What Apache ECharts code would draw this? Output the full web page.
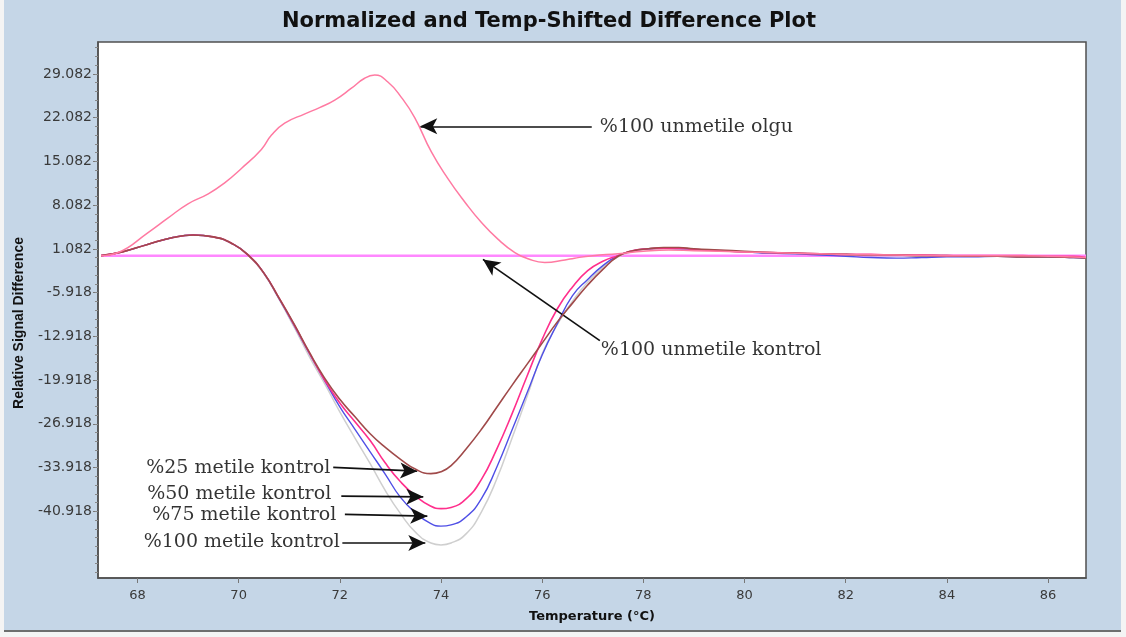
<!DOCTYPE html>
<html>
<head>
<meta charset="utf-8">
<script src="https://cdn.jsdelivr.net/npm/echarts@6/dist/echarts.min.js"></script>
<style>
  html, body { margin: 0; padding: 0; background: #f4f4f4; }
  #chart { width: 1126px; height: 637px; }
</style>
</head>
<body>
<div id="chart"></div>
<script>
// ---------- data ----------
const titleText = 'Normalized and Temp-Shifted Difference Plot';
const xAxisName = 'Temperature (\u00B0C)';
const yAxisName = 'Relative Signal Difference';

const xTicks = [68, 70, 72, 74, 76, 78, 80, 82, 84, 86];
const yTicks = [-40.918, -33.918, -26.918, -19.918, -12.918, -5.918, 1.082, 8.082, 15.082, 22.082, 29.082];
const xRange = [67.22, 86.75];
const yRange = [-51.6, 34.2];

// common temperature grid for the metile control curves
const tempGrid = [67.28, 67.7, 68.2, 68.7, 69.1, 69.5, 69.9, 70.2, 70.5, 70.8, 71.1, 71.4, 71.7,
  72.0, 72.3, 72.6, 72.9, 73.2, 73.5, 73.8, 74.0, 74.2, 74.5, 74.8, 75.1, 75.4, 75.7, 76.0,
  76.3, 76.6, 76.9, 77.2, 77.5, 77.8, 78.1, 78.4, 78.7, 79.0, 79.5, 80.0, 80.5, 81.0, 81.5,
  82.0, 82.5, 83.0, 83.5, 84.0, 84.5, 85.0, 85.5, 86.0, 86.5, 86.75];

const metile25 = [0, 0.6, 1.8, 2.9, 3.3, 3.0, 1.8, 0.0, -2.8, -6.8, -11.0, -15.5, -19.6,
  -23.0, -25.8, -28.5, -30.7, -32.6, -34.2, -34.9, -34.6, -33.6, -30.9, -27.8, -24.3, -20.8, -17.4, -14.0,
  -10.6, -7.6, -4.7, -2.2, -0.1, 0.8, 1.1, 1.3, 1.3, 1.1, 0.9, 0.7, 0.5, 0.4, 0.3,
  0.2, 0.1, 0.1, 0.0, 0.0, -0.1, -0.1, -0.2, -0.2, -0.3, -0.4];

const metile50 = [0, 0.6, 1.8, 2.9, 3.3, 3.0, 1.8, 0.0, -2.8, -6.8, -11.1, -15.6, -19.9,
  -23.6, -26.6, -29.6, -33.2, -36.2, -38.5, -40.1, -40.5, -40.3, -38.9, -35.8, -31.0, -25.4, -19.3, -13.4,
  -8.5, -5.0, -2.4, -0.9, 0.0, 0.8, 1.1, 1.2, 1.2, 1.0, 0.8, 0.6, 0.5, 0.4, 0.3,
  0.2, 0.2, 0.1, 0.1, 0.0, 0.0, 0.0, 0.0, -0.1, -0.1, -0.3];

const metile75 = [0, 0.6, 1.8, 2.9, 3.3, 3.0, 1.8, 0.0, -2.8, -6.9, -11.2, -15.7, -20.0,
  -24.2, -27.8, -31.4, -35.0, -38.7, -41.2, -42.9, -43.3, -43.1, -41.8, -38.9, -33.9, -28.0, -22.0, -15.9,
  -10.9, -6.4, -3.8, -1.6, 0.0, 0.8, 1.1, 1.2, 1.1, 1.0, 0.8, 0.6, 0.4, 0.3, 0.1,
  -0.1, -0.3, -0.4, -0.3, -0.2, -0.2, -0.1, -0.2, -0.2, -0.3, -0.4];

const metile100 = [0, 0.6, 1.8, 2.9, 3.3, 3.0, 1.8, 0.0, -2.9, -7.0, -11.5, -16.2, -20.5,
  -25.0, -29.2, -33.3, -37.6, -41.3, -44.3, -46.0, -46.3, -46.0, -44.5, -41.0, -35.8, -29.3, -22.6, -15.7,
  -11.0, -7.3, -4.2, -1.9, -0.2, 0.7, 1.0, 1.1, 1.1, 1.0, 0.8, 0.6, 0.5, 0.3, 0.2,
  0.1, 0.0, 0.0, -0.1, -0.1, -0.1, -0.1, -0.2, -0.2, -0.3, -0.4];

// %100 unmetile olgu (sample) curve
const olguTemp = [67.28, 67.62, 68.21, 68.6, 69.0, 69.4, 69.73, 70.06, 70.45, 70.65, 70.91, 71.31,
  71.6, 71.9, 72.23, 72.49, 72.69, 72.95, 73.22, 73.48, 73.81, 74.14, 74.47, 74.8, 75.13, 75.46,
  75.72, 76.05, 76.45, 76.64, 77.0, 77.5, 78.0, 78.5, 79.0, 80.0, 81.0, 82.0, 83.0, 84.0, 85.0, 86.0, 86.75];
const olguVal = [0, 0.5, 3.7, 6.0, 8.3, 9.9, 11.7, 14.0, 17.0, 19.3, 21.2, 22.7,
  23.7, 24.9, 26.8, 28.4, 28.9, 27.8, 25.3, 22.1, 16.6, 12.3, 8.6, 5.3, 2.6, 0.5,
  -0.5, -1.1, -0.7, -0.4, 0.0, 0.3, 0.7, 0.9, 0.8, 0.6, 0.4, 0.2, 0.1, 0.0, 0.0, -0.1, -0.3];

// %100 unmetile kontrol (reference, flat at zero)
const unmetileTemp = [67.28, 86.75];
const unmetileVal = [0, 0];

// annotation texts with anchor / arrow points in data units
const annotations = [
  { text: '%100 unmetile olgu',    at: [77.14, 20.6],  side: 'right', from: [76.98, 20.7],  to: [73.59, 20.7] },
  { text: '%100 unmetile kontrol', at: [77.16, -15.1], side: 'right', from: [77.14, -13.6], to: [74.83, -0.6] },
  { text: '%25 metile kontrol',    at: [71.81, -34.0], side: 'left',  from: [71.87, -33.9], to: [73.53, -34.5] },
  { text: '%50 metile kontrol',    at: [71.83, -38.2], side: 'left',  from: [72.03, -38.5], to: [73.65, -38.6] },
  { text: '%75 metile kontrol',    at: [71.93, -41.5], side: 'left',  from: [72.10, -41.4], to: [73.73, -41.7] },
  { text: '%100 metile kontrol',   at: [72.00, -45.9], side: 'left',  from: [72.05, -46.0], to: [73.69, -46.0] }
];

// ---------- build ----------
const pair = (xs, ys) => xs.map((x, i) => [x, ys[i]]);
const minorStep = (yTicks[1] - yTicks[0]) / 5;
const yMinor = [];
for (let v = yTicks[0]; v > yRange[0]; v -= minorStep) yMinor.push(+v.toFixed(4));
for (let v = yTicks[0] + minorStep; v < yRange[1]; v += minorStep) yMinor.push(+v.toFixed(4));

const chart = echarts.init(document.getElementById('chart'));

function lineSeries(name, data, color, width, z) {
  return {
    name, type: 'line', data, smooth: true, symbol: 'none', z,
    lineStyle: { color, width }, animation: false, silent: true
  };
}

const axisFont = { fontFamily: 'DejaVu Sans', fontSize: 14, color: '#3a3a3a' };

chart.setOption({
  backgroundColor: '#f4f4f4',
  animation: false,
  graphic: [
    { type: 'rect', z: -100, shape: { x: 4, y: 0, width: 1117, height: 630 }, style: { fill: '#c5d6e7' } },
    { type: 'line', z: -99, shape: { x1: 4, y1: 631, x2: 1121, y2: 631 }, style: { stroke: '#6e6e6e', lineWidth: 2 } }
  ],
  title: {
    text: titleText, left: 277, top: 6,
    textStyle: { fontFamily: 'DejaVu Sans', fontWeight: 'bold', fontSize: 21, color: '#111' }
  },
  grid: {
    left: 98, right: 40, top: 42, bottom: 59,
    show: true, backgroundColor: '#ffffff', borderColor: '#505050', borderWidth: 1.5
  },
  xAxis: {
    type: 'value', min: xRange[0], max: xRange[1],
    name: xAxisName, nameLocation: 'middle', nameGap: 32,
    nameTextStyle: { fontFamily: 'DejaVu Sans', fontWeight: 'bold', fontSize: 13, color: '#111' },
    axisLine: { show: true, onZero: false, lineStyle: { color: '#505050', width: 1.5 } },
    axisTick: { show: true, customValues: xTicks, length: 5, lineStyle: { color: '#777' } },
    axisLabel: { customValues: xTicks, margin: 11, ...axisFont, fontSize: 13, formatter: v => String(Math.round(v)) },
    splitLine: { show: false }
  },
  yAxis: [
    {
      type: 'value', min: yRange[0], max: yRange[1],
      name: yAxisName, nameLocation: 'middle', nameGap: 72, nameRotate: 90,
      nameTextStyle: { fontFamily: 'Liberation Sans', fontWeight: 'bold', fontSize: 14, color: '#111', padding: [0, 26, 0, 0] },
      axisLine: { show: true, onZero: false, lineStyle: { color: '#505050', width: 1.5 } },
      axisTick: { show: true, customValues: yTicks, length: 5, lineStyle: { color: '#777' } },
      axisLabel: { customValues: yTicks, margin: 6, ...axisFont, formatter: v => v.toFixed(3) },
      splitLine: { show: false }
    },
    {
      type: 'value', min: yRange[0], max: yRange[1], position: 'left', offset: 0,
      axisLine: { show: false },
      axisTick: { show: true, customValues: yMinor, length: 3, lineStyle: { color: '#888' } },
      axisLabel: { show: false },
      splitLine: { show: false }
    }
  ],
  series: [
    lineSeries('%100 metile kontrol', pair(tempGrid, metile100), '#cfcfcf', 1.5, 2),
    lineSeries('%75 metile kontrol', pair(tempGrid, metile75), '#4f4fe6', 1.4, 3),
    lineSeries('%50 metile kontrol', pair(tempGrid, metile50), '#ff2f8c', 1.6, 4),
    lineSeries('%25 metile kontrol', pair(tempGrid, metile25), '#a04a4a', 1.6, 5),
    lineSeries('%100 unmetile olgu', pair(olguTemp, olguVal), '#ff7aa2', 1.5, 6),
    lineSeries('%100 unmetile kontrol', pair(unmetileTemp, unmetileVal), '#ff88ff', 2.5, 1),
    {
      name: 'annotations', type: 'scatter', symbolSize: 0, z: 10, silent: true, animation: false,
      data: annotations.map(a => ({
        value: a.at,
        label: {
          show: true, formatter: a.text, position: a.side, distance: 0,
          fontFamily: 'DejaVu Serif', fontSize: 19, color: '#000'
        }
      })),
      markLine: {
        silent: true, animation: false,
        symbol: ['none', 'arrow'], symbolSize: [12, 17],
        lineStyle: { color: '#111', width: 1.7, type: 'solid' },
        label: { show: false },
        data: annotations.map(a => [{ coord: a.from }, { coord: a.to }])
      }
    }
  ]
});
</script>
</body>
</html>
